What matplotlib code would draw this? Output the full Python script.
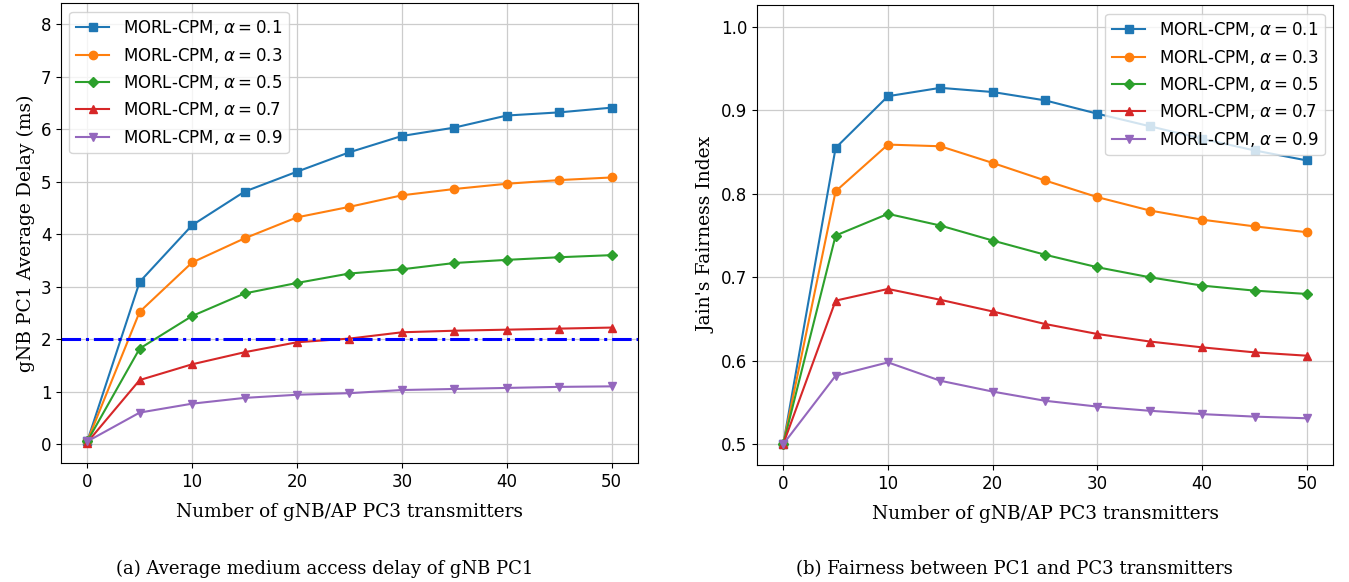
import matplotlib.pyplot as plt

# --- DATA ---
n_pc3 = [0, 5, 10, 15, 20, 25, 30, 35, 40, 45, 50]
alphas = [0.1, 0.3, 0.5, 0.7, 0.9]

delay_a01 = [0.05, 3.09, 4.17, 4.81, 5.19, 5.56, 5.87, 6.03, 6.26, 6.32, 6.41]
delay_a03 = [0.05, 2.52, 3.46, 3.92, 4.32, 4.52, 4.74, 4.86, 4.96, 5.03, 5.08]
delay_a05 = [0.05, 1.82, 2.44, 2.87, 3.07, 3.25, 3.33, 3.45, 3.51, 3.56, 3.60]
delay_a07 = [0.03, 1.22, 1.52, 1.75, 1.94, 2.01, 2.13, 2.16, 2.18, 2.20, 2.22]
delay_a09 = [0.05, 0.60, 0.77, 0.88, 0.94, 0.97, 1.03, 1.05, 1.07, 1.09, 1.10]
delay_limit = 2.0

fair_a01 = [0.50, 0.855, 0.917, 0.927, 0.922, 0.912, 0.896, 0.881, 0.866, 0.852, 0.840]
fair_a03 = [0.50, 0.803, 0.859, 0.857, 0.837, 0.816, 0.796, 0.780, 0.769, 0.761, 0.754]
fair_a05 = [0.50, 0.750, 0.776, 0.762, 0.744, 0.727, 0.712, 0.700, 0.690, 0.684, 0.680]
fair_a07 = [0.50, 0.672, 0.686, 0.673, 0.659, 0.644, 0.632, 0.623, 0.616, 0.610, 0.606]
fair_a09 = [0.50, 0.582, 0.598, 0.576, 0.563, 0.552, 0.545, 0.540, 0.536, 0.533, 0.531]

delays = [delay_a01, delay_a03, delay_a05, delay_a07, delay_a09]
fairness = [fair_a01, fair_a03, fair_a05, fair_a07, fair_a09]

colors = ['#1f77b4', '#ff7f0e', '#2ca02c', '#d62728', '#9467bd']
markers = ['s', 'o', 'D', '^', 'v']
msizes = [6, 6, 5, 6, 6]

serif = 'DejaVu Serif'

fig = plt.figure(figsize=(13.49, 5.82), dpi=100)
ax1 = fig.add_axes([0.0452, 0.2045, 0.4277, 0.790])
ax2 = fig.add_axes([0.5612, 0.2010, 0.4270, 0.790])

# --- (a) gecikme ---
for a, y, c, m, ms in zip(alphas, delays, colors, markers, msizes):
    ax1.plot(n_pc3, y, color=c, marker=m, markersize=ms, linewidth=1.5,
             label=rf'MORL-CPM, $\alpha = {a}$')
ax1.axhline(delay_limit, color='blue', linestyle='-.', linewidth=2.2)
ax1.set_ylim(-0.36, 8.4)
ax1.set_yticks(range(0, 9))
ax1.set_xticks(range(0, 51, 10))
ax1.set_ylabel('gNB PC1 Average Delay (ms)', fontsize=13.5, family=serif)
ax1.set_xlabel('Number of gNB/AP PC3 transmitters', fontsize=13.3, family=serif, labelpad=9)
ax1.legend(loc='upper left', fontsize=12)

# --- (b) adalet indeksi ---
for a, y, c, m, ms in zip(alphas, fairness, colors, markers, msizes):
    ax2.plot(n_pc3, y, color=c, marker=m, markersize=ms, linewidth=1.5,
             label=rf'MORL-CPM, $\alpha = {a}$')
ax2.set_ylim(0.475, 1.026)
ax2.set_xticks(range(0, 51, 10))
ax2.set_ylabel("Jain's Fairness Index", fontsize=13.5, family=serif)
ax2.set_xlabel('Number of gNB/AP PC3 transmitters', fontsize=13.3, family=serif, labelpad=9)
ax2.legend(loc='upper right', fontsize=12)

for ax in (ax1, ax2):
    ax.grid(True, color='#cccccc', linewidth=0.9)
    ax.tick_params(labelsize=12)

fig.text(0.241, 0.014, '(a) Average medium access delay of gNB PC1',
         ha='center', fontsize=13, family=serif)
fig.text(0.752, 0.014, '(b) Fairness between PC1 and PC3 transmitters',
         ha='center', fontsize=13, family=serif)

fig.savefig('out.png', dpi=100)
